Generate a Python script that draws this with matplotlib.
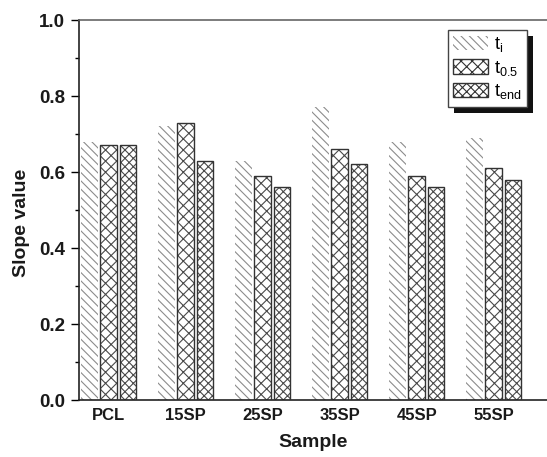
import matplotlib
matplotlib.use('Agg')
import matplotlib.pyplot as plt
from matplotlib.patches import Patch, Rectangle
from matplotlib.transforms import IdentityTransform
from matplotlib.ticker import MultipleLocator
import numpy as np

samples = ['PCL', '15SP', '25SP', '35SP', '45SP', '55SP']
t_i = [0.68, 0.72, 0.63, 0.77, 0.68, 0.69]
t_05 = [0.67, 0.73, 0.59, 0.66, 0.59, 0.61]
t_end = [0.67, 0.63, 0.56, 0.62, 0.56, 0.58]
series_labels = ['t$_\\mathregular{i}$', 't$_\\mathregular{0.5}$', 't$_\\mathregular{end}$']
y_ticks = [0.0, 0.2, 0.4, 0.6, 0.8, 1.0]

plt.rcParams['font.family'] = ['Liberation Sans', 'DejaVu Sans']
plt.rcParams['hatch.linewidth'] = 0.8
plt.rcParams['mathtext.fontset'] = 'custom'
plt.rcParams['mathtext.rm'] = 'Liberation Sans'

fig = plt.figure(figsize=(5.47, 4.57), dpi=100)
ax = fig.add_axes([0.1444, 0.1247, 0.8556, 0.8315])

x = np.arange(len(samples))
w = 0.217
off = 0.25
styles = [('\\\\\\\\', '#8c8c8c', None),
          ('xxx', '#4a4a4a', '#333333'),
          ('xxxx', '#4a4a4a', '#333333')]
handles = []
for k, (vals, (h, hc, ec)) in enumerate(zip([t_i, t_05, t_end], styles)):
    pos = x + (k - 1) * off
    ax.bar(pos, vals, w, color='white', edgecolor=hc, hatch=h, linewidth=0, zorder=2)
    if ec:
        ax.bar(pos, vals, w, fill=False, edgecolor=ec, linewidth=1.0, zorder=3)
        handles.append(Patch(facecolor='white', edgecolor=ec, hatch=h, linewidth=1.0))
    else:
        handles.append(Patch(facecolor='white', edgecolor=hc, hatch=h, linewidth=0))

ax.set_xlim(-0.386, 5.69)
ax.set_ylim(0, 1.0)
ax.set_xticks(x, samples, fontsize=12, fontweight='bold', color='#1a1a1a')
ax.set_yticks(y_ticks, [f'{v:.1f}' for v in y_ticks], fontsize=13.5, fontweight='bold', color='#1a1a1a')
ax.yaxis.set_minor_locator(MultipleLocator(0.1))
ax.tick_params(axis='x', length=0, pad=6)
ax.tick_params(axis='y', which='major', direction='out', length=6, width=1.0, pad=4)
ax.tick_params(axis='y', which='minor', direction='out', length=3, width=1.0)

ax.spines['right'].set_visible(False)
ax.spines['top'].set_color('#666666')
ax.spines['top'].set_linewidth(1.2)
for s in ['left', 'bottom']:
    ax.spines[s].set_color('#222222')
    ax.spines[s].set_linewidth(1.2)

ax.set_xlabel('Sample', fontsize=14, fontweight='bold', color='#1a1a1a', labelpad=8)
ax.set_ylabel('Slope value', fontsize=14, fontweight='bold', color='#1a1a1a')
ax.yaxis.set_label_coords(-0.105, 0.466)

leg = ax.legend(handles, series_labels, loc='upper right', bbox_to_anchor=(0.957, 0.974),
                borderaxespad=0, frameon=True, fancybox=False, edgecolor='#444444',
                framealpha=1, fontsize=13, handlelength=1.9, handleheight=0.85,
                labelspacing=0.25, handletextpad=0.35, borderpad=0.3)
leg.get_frame().set_linewidth(1.0)

fig.canvas.draw()
bb = leg.get_window_extent()
shadow = Rectangle((bb.x0 + 6, bb.y0 - 6), bb.width, bb.height, transform=IdentityTransform(),
                   facecolor='#111111', edgecolor='none', zorder=4.9)
ax.add_patch(shadow)

fig.savefig('out.png', dpi=100)
